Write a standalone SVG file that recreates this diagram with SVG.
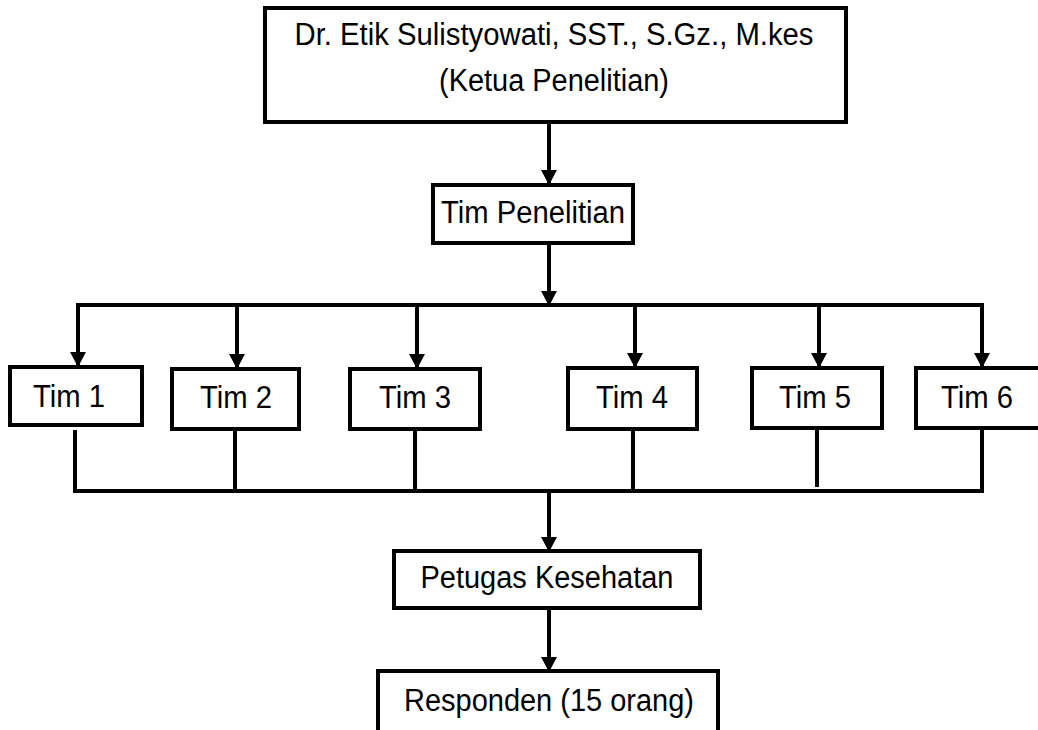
<svg xmlns="http://www.w3.org/2000/svg" width="1038" height="730" viewBox="0 0 1038 730">
<style>
.box{fill:#fff;stroke:#000;stroke-width:4;stroke-linejoin:miter}
.t{font-family:"Liberation Sans",Arial,sans-serif;font-size:31px;fill:#000;text-anchor:middle}
.ln{fill:none;stroke:#000;stroke-width:4}
.ar{fill:none;stroke:#000;stroke-width:4;marker-end:url(#ah)}
</style>
<defs>
<marker id="ah" markerUnits="userSpaceOnUse" markerWidth="16" markerHeight="16" refX="14" refY="8" orient="auto">
<path d="M0,0 L15,8 L0,16 Z" fill="#000"/>
</marker>
</defs>
<rect width="1038" height="730" fill="#fff"/>
<g id="connectors">
<line class="ar" x1="549" y1="123" x2="549" y2="184"/>
<line class="ar" x1="549" y1="243" x2="549" y2="305"/>
<polyline class="ln" points="78,365 78,305 982,305 982,365"/>
<line class="ar" x1="78" y1="305" x2="78" y2="366"/>
<line class="ar" x1="237" y1="305" x2="237" y2="368"/>
<line class="ar" x1="417" y1="305" x2="417" y2="368"/>
<line class="ar" x1="635" y1="305" x2="635" y2="367"/>
<line class="ar" x1="819" y1="305" x2="819" y2="367"/>
<line class="ar" x1="982" y1="305" x2="982" y2="367"/>
<polyline class="ln" points="75,430 75,491 982,491 982,428"/>
<line class="ln" x1="235" y1="430" x2="235" y2="491"/>
<line class="ln" x1="415" y1="429" x2="415" y2="491"/>
<line class="ln" x1="633" y1="429" x2="633" y2="491"/>
<line class="ln" x1="817" y1="428" x2="817" y2="487"/>
<line class="ar" x1="549" y1="491" x2="549" y2="551"/>
<line class="ar" x1="549" y1="608" x2="549" y2="671"/>
</g>
<g id="ketua">
<rect class="box" x="265" y="8" width="581" height="114"/>
<text class="t" x="554" y="45" textLength="519" lengthAdjust="spacingAndGlyphs">Dr. Etik Sulistyowati, SST., S.Gz., M.kes</text>
<text class="t" x="554" y="91" textLength="230" lengthAdjust="spacingAndGlyphs">(Ketua Penelitian)</text>
</g>
<g id="tim-penelitian">
<rect class="box" x="433" y="185" width="200" height="58"/>
<text class="t" x="533" y="223" textLength="184" lengthAdjust="spacingAndGlyphs">Tim Penelitian</text>
</g>
<g id="tim1">
<rect class="box" x="10" y="367" width="132" height="58"/>
<text class="t" x="69" y="407" textLength="72" lengthAdjust="spacingAndGlyphs">Tim 1</text>
</g>
<g id="tim2">
<rect class="box" x="172" y="369" width="127" height="60"/>
<text class="t" x="236" y="408" textLength="72" lengthAdjust="spacingAndGlyphs">Tim 2</text>
</g>
<g id="tim3">
<rect class="box" x="350" y="369" width="130" height="60"/>
<text class="t" x="415" y="408" textLength="72" lengthAdjust="spacingAndGlyphs">Tim 3</text>
</g>
<g id="tim4">
<rect class="box" x="568" y="368" width="129" height="61"/>
<text class="t" x="632" y="408" textLength="72" lengthAdjust="spacingAndGlyphs">Tim 4</text>
</g>
<g id="tim5">
<rect class="box" x="752" y="368" width="130" height="60"/>
<text class="t" x="815" y="408" textLength="72" lengthAdjust="spacingAndGlyphs">Tim 5</text>
</g>
<g id="tim6">
<rect class="box" x="916" y="368" width="128" height="60"/>
<text class="t" x="977" y="408" textLength="72" lengthAdjust="spacingAndGlyphs">Tim 6</text>
</g>
<g id="petugas">
<rect class="box" x="394" y="551" width="306" height="57"/>
<text class="t" x="547" y="588" textLength="253" lengthAdjust="spacingAndGlyphs">Petugas Kesehatan</text>
</g>
<g id="responden">
<rect class="box" x="378" y="671" width="340" height="70"/>
<text class="t" x="549" y="711" textLength="290" lengthAdjust="spacingAndGlyphs">Responden (15 orang)</text>
</g>
</svg>
